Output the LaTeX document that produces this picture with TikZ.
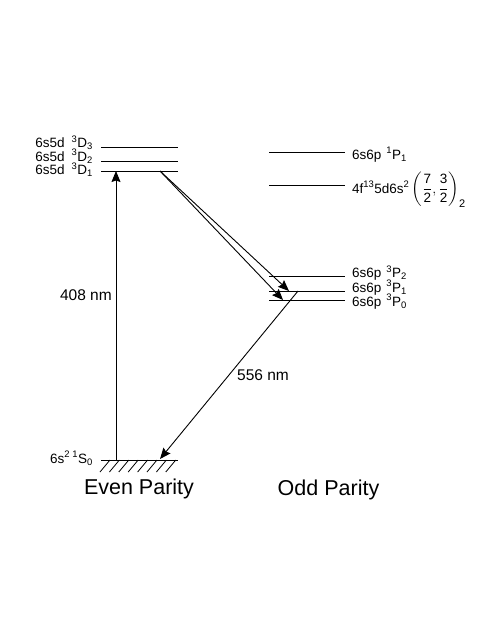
\documentclass[tikz,border=0pt]{standalone}
\usepackage{fontspec}
\setmainfont{Liberation Sans}
\usepackage{amsmath}
\usetikzlibrary{arrows.meta}

\begin{document}
\begin{tikzpicture}[
			x=1pt,y=-1pt,
			level/.style={
				line width=0.9pt
			},
			trans/.style={
				line width=0.9pt,
				-{Stealth[length=11pt,width=9pt,inset=1.5pt]}
			},
			statelabel/.style={
				inner sep=0pt,
				font=\fontsize{13.5}{15}\selectfont
			},
			wavelabel/.style={
				inner sep=0pt,
				font=\fontsize{15.5}{17}\selectfont
			},
			paritylabel/.style={
				inner sep=0pt,
				font=\fontsize{21.5}{24}\selectfont
			}
			]
			\useasboundingbox (0,0) rectangle (491,635);
			
			% even parity levels
			\coordinate (d3l) at (101,147); \coordinate (d3r) at (178,147);
			\coordinate (d2l) at (101,161); \coordinate (d2r) at (178,161);
			\coordinate (d1l) at (101,171); \coordinate (d1r) at (178,171);
			\coordinate (s0l) at (101,460); \coordinate (s0r) at (178,460);
			\draw[level] (d3l) -- (d3r);
			\draw[level] (d2l) -- (d2r);
			\draw[level] (d1l) -- (d1r);
			\draw[level] (s0l) -- (s0r);
			\foreach \k in {0,...,7}
				\draw[line width=0.8pt] (100+9.4*\k,472) -- (110+9.4*\k,460);
			
			\node[statelabel,anchor=base east] (lbd3) at (93,147.5) {6s5d\hspace{7pt}\textsuperscript{3}D\textsubscript{3}};
			\node[statelabel,anchor=base east] (lbd2) at (93,161) {6s5d\hspace{7pt}\textsuperscript{3}D\textsubscript{2}};
			\node[statelabel,anchor=base east] (lbd1) at (93,174.5) {6s5d\hspace{7pt}\textsuperscript{3}D\textsubscript{1}};
			\node[statelabel,anchor=base east] (lbs0) at (93,463) {6s\textsuperscript{2}\,\textsuperscript{1}S\textsubscript{0}};
			
			% odd parity levels
			\coordinate (p1sl) at (269,152.5); \coordinate (p1sr) at (345,152.5);
			\coordinate (fl) at (269,185.5); \coordinate (fr) at (345,185.5);
			\coordinate (p2l) at (269,276); \coordinate (p2r) at (345,276);
			\coordinate (p1l) at (269,291); \coordinate (p1r) at (345,291);
			\coordinate (p0l) at (269,300); \coordinate (p0r) at (345,300);
			\draw[level] (p1sl) -- (p1sr);
			\draw[level] (fl) -- (fr);
			\draw[level] (p2l) -- (p2r);
			\draw[level] (p1l) -- (p1r);
			\draw[level] (p0l) -- (p0r);
			
			\node[statelabel,anchor=base west] (lbp1s) at (352,159) {6s6p\hspace{5pt}\textsuperscript{1}P\textsubscript{1}};
			\node[statelabel,anchor=base west] (lbf) at (352,193) {4f\textsuperscript{13}5d6s\textsuperscript{2}\,$\left(\dfrac{\text{7}}{\text{2}},\dfrac{\text{3}}{\text{2}}\right)_{\text{\fontsize{11}{12}\selectfont 2}}$};
			\node[statelabel,anchor=base west] (lbp2) at (352,277.5) {6s6p\hspace{5pt}\textsuperscript{3}P\textsubscript{2}};
			\node[statelabel,anchor=base west] (lbp1) at (352,292) {6s6p\hspace{5pt}\textsuperscript{3}P\textsubscript{1}};
			\node[statelabel,anchor=base west] (lbp0) at (352,306) {6s6p\hspace{5pt}\textsuperscript{3}P\textsubscript{0}};
			
			% transitions
			\coordinate (up0) at (116,460);
			\coordinate (up1) at (116,171);
			\coordinate (dn0) at (160,171);
			\coordinate (dn1) at (289,291);
			\coordinate (dn2) at (283,300);
			\coordinate (gr0) at (298,291);
			\coordinate (gr1) at (160,459);
			\draw[trans] (up0) -- (up1);
			\draw[trans] (dn0) -- (dn1);
			\draw[trans] (dn0) -- (dn2);
			\draw[trans] (gr0) -- (gr1);
			\node[wavelabel,anchor=base east] (l408) at (112,300.5) {408 nm};
			\node[wavelabel,anchor=base west] (l556) at (237,380.5) {556 nm};
			
			% parity
			\node[paritylabel,anchor=base] (even) at (139,494) {Even Parity};
			\node[paritylabel,anchor=base] (odd) at (328.5,495) {Odd Parity};
		\end{tikzpicture}
\end{document}
